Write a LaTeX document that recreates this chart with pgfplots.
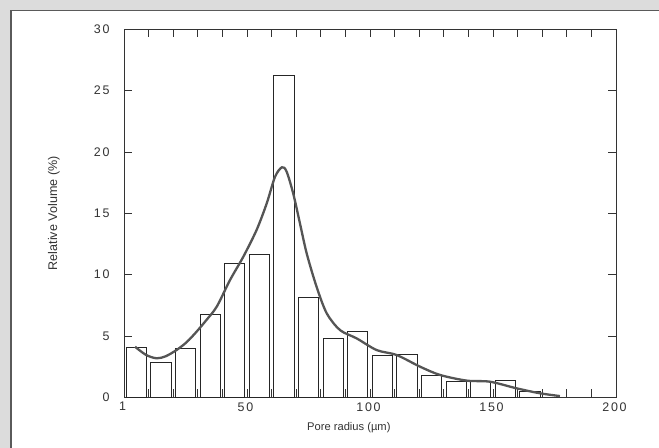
\documentclass[border=0pt]{standalone}
\usepackage{pgfplots}
\pgfplotsset{compat=1.18}
\usepackage{fontspec}
\setmainfont{Liberation Sans}
\newfontfamily\tickfont[LetterSpace=14]{Liberation Sans}
\definecolor{bggrey}{HTML}{DCDCDC}
\definecolor{frameline}{HTML}{5A5A5A}
\definecolor{curvecol}{HTML}{555555}
\definecolor{axcol}{HTML}{333333}
\begin{document}
\begin{tikzpicture}[x=1bp,y=1bp]
\useasboundingbox (0,0) rectangle (659,448);
\fill[bggrey] (0,0) rectangle (659,448);
\fill[white] (11,0) rectangle (659,437.5);
\draw[frameline,line width=1.2bp] (11,0) -- (11,437.5) -- (659,437.5);
\begin{axis}[
  at={(124bp,50.7bp)}, anchor=south west,
  scale only axis, width=492bp, height=368bp,
  xmin=0, xmax=200, ymin=0, ymax=30,
  axis line style={axcol, line width=0.9bp},
  every tick/.style={axcol, line width=0.9bp},
  tick align=inside,
  major tick length=8bp, minor tick length=8bp,
  xtick={0,50,100,150,200},
  xticklabels={1,50,100,150,200},
  minor xtick={10,20,30,40,60,70,80,90,110,120,130,140,160,170,180,190},
  ytick={0,5,10,15,20,25,30},
  yticklabels={0,5,10,15,20,25,30},
  tick label style={font=\tickfont\fontsize{12.5}{14}\selectfont, text=axcol},
  xticklabel style={yshift=-1.5bp, xshift=-1.5bp},
  yticklabel style={xshift=-11bp},
  xlabel={Pore radius (µm)},
  ylabel={Relative Volume (\%)},
  xlabel style={font=\fontsize{11.2}{13}\selectfont, text=axcol, at={(axis description cs:0.457,-0.0834)}, anchor=center},
  ylabel style={font=\fontsize{12.6}{14}\selectfont, text=axcol, at={(axis description cs:-0.1423,0.5)}, anchor=center},
  clip=false,
]
\addplot[ybar, bar width=8.2, bar shift=0, draw=black!85, line width=0.9bp, fill=white]
coordinates {
(5,4.06) (15,2.82) (25,3.96) (35,6.78) (45,10.92) (55,11.68) (65,26.27)
(75,8.12) (85,4.8) (95,5.4) (105,3.39) (115,3.47) (125,1.82) (135,1.27)
(145,1.30) (155,1.37) (165,0.44)
};
\addplot[curvecol, line width=2.3bp, smooth, tension=0.5, no marks]
coordinates {
(4.5,4.12) (9,3.45) (13.3,3.18) (17,3.35) (21.4,3.86) (25.5,4.5)
(29.5,5.35) (33.5,6.3) (37.7,7.39) (43.1,9.56) (48.5,11.46) (53.9,13.64)
(58,15.8) (61.4,17.98) (64.2,18.75) (66.1,18.4) (68.8,16.6) (71.5,14.2)
(74.3,11.7) (78.3,9.0) (82.4,6.85) (87.8,5.48) (94.6,4.8) (102.7,3.85)
(110.8,3.45) (120.3,2.5) (128.5,1.82) (139.3,1.36) (148.8,1.27)
(159.6,0.73) (169,0.33) (177.2,0.1)
};
\end{axis}
\end{tikzpicture}
\end{document}
